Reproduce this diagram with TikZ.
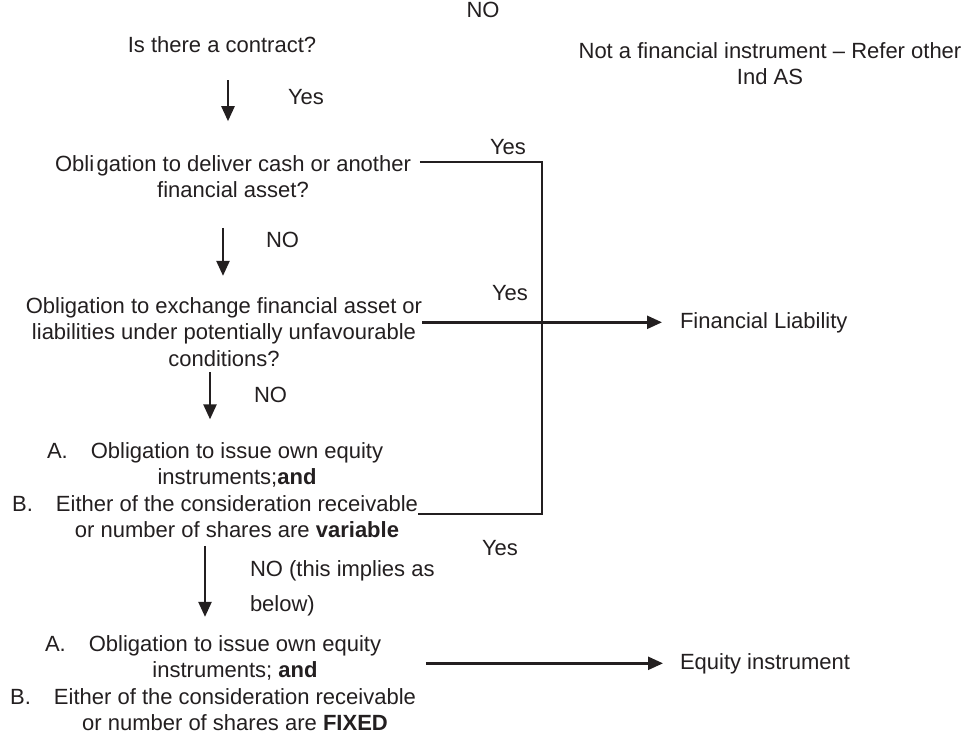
\documentclass[tikz,border=0pt]{standalone}
\usepackage{fontspec}
\setmainfont{Liberation Sans}
\usetikzlibrary{arrows.meta}
\definecolor{ink}{HTML}{231F20}
\begin{document}
\begin{tikzpicture}[x=1pt,y=-1pt,
  every node/.style={inner sep=0pt, outer sep=0pt, text=ink, font=\fontsize{22}{26.5}\selectfont},
  txt/.style={align=center},
  lbl/.style={anchor=base west},
  arr/.style={draw=ink, line width=2.4pt, -{Triangle[length=15pt,width=13pt]}},
  ln/.style={draw=ink, line width=2.6pt}]
\useasboundingbox[fill=white] (0,0) rectangle (978,731);

% main texts
\node[anchor=base] (noTop) at (483,17.5) {NO};
\node[anchor=base] (contract) at (222,52) {Is there a contract?};
\node[txt,anchor=north] (notfin) at (770,42.2) {Not a financial instrument – Refer other\\Ind AS};
\node[txt,anchor=north] (deliver) at (233,155.2) {Obli\hspace{2.5pt}gation to deliver cash or another\\financial asset?};
\node[txt,anchor=north] (exch) at (224,297.2) {Obligation to exchange financial asset or\\liabilities under potentially unfavourable\\conditions?};
\node[txt,anchor=north] (b1) at (237,442.2) {\llap{A.\hspace{23pt}}Obligation to issue own equity\\instruments;\textbf{and}\\\llap{B.\hspace{23pt}}Either of the consideration receivable\\or number of shares are \textbf{variable}};
\node[txt,anchor=north] (b2) at (235,635.2) {\llap{A.\hspace{23pt}}Obligation to issue own equity\\instruments; \textbf{and}\\\llap{B.\hspace{23pt}}Either of the consideration receivable\\or number of shares are \textbf{FIXED}};
\node[lbl] (FL) at (680,328) {Financial Liability};
\node[lbl] (EI) at (680,669) {Equity instrument};

% labels
\node[lbl] (yes1) at (288,104) {Yes};
\node[lbl] (yes2) at (490,154) {Yes};
\node[lbl] (no2) at (266,247) {NO};
\node[lbl] (yes3) at (492,300) {Yes};
\node[lbl] (no3) at (254,402) {NO};
\node[lbl] (yes4) at (482,555) {Yes};
\node[lbl] (implies1) at (250,576) {NO (this implies as};
\node[lbl] (implies2) at (250,611) {below)};

% vertical flow arrows
\draw[arr] ([xshift=6pt]contract.south) ++(0,28) -- ++(0,41);
\draw[arr] ([xshift=-10pt]deliver.south) ++(0,30) -- ++(0,48);
\draw[arr] ([xshift=-14pt]exch.south) ++(0,6) -- ++(0,47);
\draw[arr] ([xshift=-32pt]b1.south) ++(0,8) -- ++(0,71);

% yes connectors
\coordinate (j1) at (542,162);
\coordinate (j2) at (542,514);
\draw[ln] ([xshift=9pt]deliver.east |- j1) -- (j1) -- (j2) -- (j2 -| b1.east);
\draw[arr, shorten >=18pt] (exch.east |- FL.west) -- (FL.west);
\draw[arr, shorten >=17pt] ([xshift=10pt]b2.east |- EI.west) -- (EI.west);
\end{tikzpicture}
\end{document}
